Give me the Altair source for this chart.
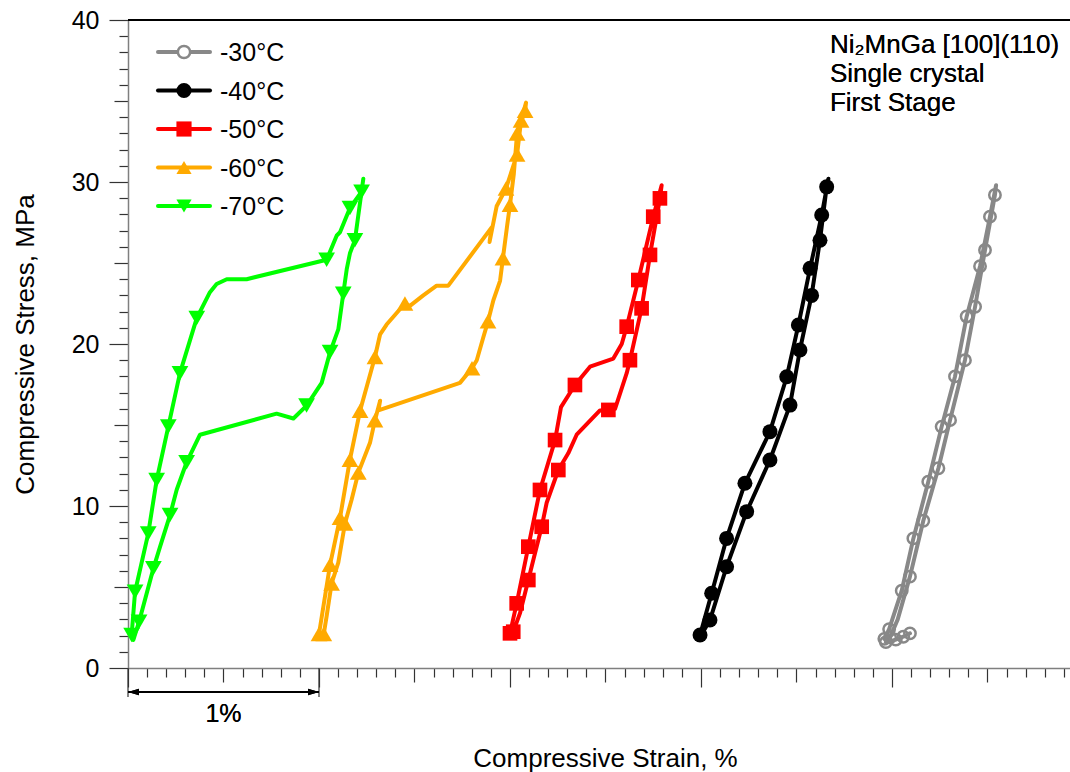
import altair as alt
import pandas as pd

FONT = "Liberation Sans"

SERIES = ["-30°C", "-40°C", "-50°C", "-60°C", "-70°C"]
COLORS = ["#888888", "#000000", "#ff0000", "#ffaa00", "#00ff00"]

# -30 °C (grey, open circles)
STRAIN_30 = [3.960, 3.985, 4.051, 4.112, 4.190, 4.260, 4.330, 4.391, 4.461, 4.513, 4.545,
             4.539, 4.487, 4.435, 4.382, 4.304, 4.243, 4.164, 4.094, 4.030, 3.990, 3.968, 4.020, 4.059, 4.094]
STRESS_30 = [1.8, 2.4, 4.77, 8.0, 11.5, 14.9, 18.0, 21.7, 24.8, 27.86, 29.8,
             29.2, 25.8, 22.3, 19.0, 15.3, 12.33, 9.09, 5.64, 3.0, 1.9, 1.6, 1.75, 1.93, 2.14]
MARK_30 = [1, 1, 1, 1, 1, 1, 1, 1, 1, 1, 0,
           1, 1, 1, 1, 1, 1, 1, 1, 0, 1, 1, 1, 1, 1]

# -40 °C (black, filled circles)
STRAIN_40 = [2.995, 3.056, 3.134, 3.230, 3.361, 3.449, 3.510, 3.571, 3.632, 3.667,
             3.658, 3.623, 3.579, 3.518, 3.466, 3.361, 3.239, 3.134, 3.047, 3.000]
STRESS_40 = [2.04, 4.61, 8.0, 11.4, 14.59, 17.98, 21.17, 24.67, 27.96, 30.2,
             29.7, 26.4, 23.0, 19.63, 16.23, 12.84, 9.65, 6.25, 2.96, 2.0]
MARK_40 = [1, 1, 1, 1, 1, 1, 1, 1, 1, 0,
           1, 1, 1, 1, 1, 1, 1, 1, 1, 0]

# -50 °C (red, squares)
STRAIN_50 = [2.000, 2.035, 2.096, 2.157, 2.236, 2.267, 2.340, 2.419, 2.541, 2.585, 2.611, 2.672, 2.750, 2.794,
             2.785, 2.733, 2.689, 2.628, 2.611, 2.550, 2.515, 2.471, 2.349, 2.305, 2.253, 2.192, 2.166, 2.122,
             2.096, 2.052, 2.017]
STRESS_50 = [2.14, 3.99, 7.49, 10.99, 14.07, 16.1, 17.47, 18.6, 19.1, 20.0, 21.07, 23.95, 27.86, 29.8,
             28.99, 25.5, 22.2, 19.0, 18.2, 16.0, 15.93, 15.9, 14.4, 13.25, 12.22, 10.2, 8.72, 6.67,
             5.43, 3.37, 2.24]
MARK_50 = [1, 1, 1, 1, 1, 0, 1, 0, 0, 0, 1, 1, 1, 0,
           1, 1, 1, 1, 0, 0, 1, 0, 0, 0, 1, 0, 1, 0,
           1, 0, 1]

# -60 °C (orange, triangles up)
STRAIN_60 = [1.000, 1.058, 1.110, 1.162, 1.215, 1.293, 1.320, 1.354, 1.450, 1.476, 1.546, 1.616, 1.677,
             1.904, 1.893, 1.930, 1.979, 2.037, 2.058, 2.084,
             2.079, 2.037, 2.020, 2.000, 1.985, 1.963, 1.948, 1.913, 1.885, 1.860, 1.826, 1.801, 1.738,
             1.311, 1.320, 1.293, 1.267, 1.206, 1.171, 1.136, 1.101, 1.066, 1.040, 1.025]
STRESS_60 = [2.1, 6.38, 9.27, 12.86, 15.88, 19.2, 20.6, 21.2, 22.5, 22.35, 23.0, 23.6, 23.6,
             27.2, 26.3, 28.5, 29.6, 31.7, 33.8, 34.9,
             34.4, 33.0, 30.5, 28.6, 27.3, 25.3, 23.9, 22.7, 21.4, 20.4, 19.0, 18.5, 17.6,
             15.9, 16.5, 15.3, 13.9, 12.06, 10.4, 8.92, 6.5, 5.22, 3.2, 2.1]
MARK_60 = [1, 1, 1, 1, 1, 1, 0, 0, 1, 0, 0, 0, 0,
           0, 0, 0, 1, 1, 1, 0,
           1, 1, 0, 1, 0, 1, 0, 0, 1, 0, 0, 1, 0,
           0, 0, 1, 0, 1, 0, 1, 0, 1, 0, 1]

# -70 °C (green, triangles down)
STRAIN_70 = [0.019, 0.037, 0.106, 0.150, 0.211, 0.272, 0.360, 0.429, 0.464, 0.517, 0.621, 1.040, 1.093,
             1.110, 1.162, 1.223, 1.232,
             1.188, 1.162, 1.145, 1.127, 1.101, 1.058, 1.014, 0.935, 0.866, 0.778, 0.377, 0.307, 0.255,
             0.220, 0.168, 0.133, 0.058, 0.028]
STRESS_70 = [2.04, 4.71, 8.31, 11.6, 14.9, 18.2, 21.6, 23.2, 23.7, 24.0, 24.0, 25.2, 26.7,
             26.9, 28.4, 29.4, 30.2,
             26.4, 25.6, 24.6, 23.1, 20.9, 19.5, 17.6, 16.2, 15.4, 15.7, 14.4, 12.7, 11.0,
             9.44, 7.49, 6.15, 2.86, 1.73]
MARK_70 = [1, 1, 1, 1, 1, 1, 1, 0, 0, 0, 0, 1, 0,
           0, 1, 1, 0,
           1, 0, 0, 1, 0, 1, 0, 1, 0, 0, 0, 1, 0,
           1, 0, 1, 1, 0]

MARKER_SHAPES = ["circle", "circle", "square", "triangle-up", "triangle-down"]
MARKER_SIZES = [130, 225, 215, 280, 280]

ANNOT_LINES = ["Ni\u2082MnGa [100](110)", "Single crystal", "First Stage"]
ANNOT_X = 3.675
ANNOT_Y = 37.96

SCALE_BAR = [0, 1]
XMAX = 4.932
W, H = 942, 648

rows = []
for name, xs, ys, ms in [
    (SERIES[0], STRAIN_30, STRESS_30, MARK_30),
    (SERIES[1], STRAIN_40, STRESS_40, MARK_40),
    (SERIES[2], STRAIN_50, STRESS_50, MARK_50),
    (SERIES[3], STRAIN_60, STRESS_60, MARK_60),
    (SERIES[4], STRAIN_70, STRESS_70, MARK_70),
]:
    for i, (x, y, m) in enumerate(zip(xs, ys, ms)):
        rows.append({"series": name, "strain": x, "stress": y, "mark": m, "idx": i})
df = pd.DataFrame(rows)
legend_df = pd.DataFrame({"series": SERIES})

color_scale = alt.Scale(domain=SERIES, range=COLORS)
xscale = alt.Scale(domain=[0, XMAX], nice=False, zero=False)
yscale = alt.Scale(domain=[0, 40], nice=False)

x_ticks = [round(i * 0.1, 1) for i in range(0, 50)]
y_ticks = list(range(0, 41))

xaxis = alt.Axis(
    values=x_ticks, tickCount=200, labels=False, grid=False,
    domainColor="#7f7f7f", domainWidth=1.5, tickColor="#333333", tickWidth=1.2,
    tickSize={"condition": [
        {"test": "abs(datum.value - round(datum.value)) < 0.001", "value": 19},
        {"test": "abs(datum.value * 2 - round(datum.value * 2)) < 0.001", "value": 14}],
        "value": 9},
    title="Compressive Strain, %", titleFont=FONT, titleFontSize=26, titleFontWeight="normal",
    titleColor="black", titleX=477, titleY=98, titleBaseline="alphabetic",
)
yaxis = alt.Axis(
    values=y_ticks, tickCount=200, grid=False, format="d",
    domainColor="#7f7f7f", domainWidth=1.5, tickColor="#333333", tickWidth=1.2,
    tickSize={"condition": [
        {"test": "datum.value % 10 === 0", "value": 19},
        {"test": "datum.value % 5 === 0", "value": 14}],
        "value": 9},
    labelExpr="datum.value % 10 === 0 ? datum.label : ''",
    labelFont=FONT, labelFontSize=25, labelColor="black", labelPadding=10, labelOverlap=False,
    title="Compressive Stress, MPa", titleFont=FONT, titleFontSize=26, titleFontWeight="normal",
    titleColor="black", titleX=-95, titleBaseline="alphabetic", titleAngle=270,
)

base = alt.Chart(df)

lines = base.mark_line(strokeWidth=4, strokeJoin="round", strokeCap="round").encode(
    x=alt.X("strain:Q", scale=xscale, axis=xaxis),
    y=alt.Y("stress:Q", scale=yscale, axis=yaxis),
    color=alt.Color("series:N", scale=color_scale, legend=None),
    order="idx:Q",
)

point_layers = []
for k in range(1, 5):
    point_layers.append(
        base.transform_filter(
            alt.FieldEqualPredicate(field="series", equal=SERIES[k])
        ).transform_filter("datum.mark == 1").mark_point(
            filled=True, opacity=1, size=MARKER_SIZES[k], shape=MARKER_SHAPES[k], color=COLORS[k]
        ).encode(x="strain:Q", y="stress:Q")
    )
open_pts = base.transform_filter(
    alt.FieldEqualPredicate(field="series", equal=SERIES[0])
).transform_filter("datum.mark == 1").mark_point(
    filled=False, opacity=1, size=MARKER_SIZES[0], strokeWidth=2.5, shape=MARKER_SHAPES[0], color=COLORS[0]
).encode(x="strain:Q", y="stress:Q")

top_frame = alt.Chart(df).mark_rule(color="black", strokeWidth=1.5).encode(
    x=alt.datum(0), x2=alt.datum(XMAX), y=alt.datum(40)
)

bar_df = pd.DataFrame({"strain": SCALE_BAR})
bar_ends = alt.Chart(bar_df).mark_rule(color="#333333", strokeWidth=1.2).encode(
    x="strain:Q", y=alt.value(H), y2=alt.value(H + 29)
)
bar_line = alt.Chart(bar_df).mark_rule(color="black", strokeWidth=1.8).encode(
    x=alt.datum(SCALE_BAR[0]), x2=alt.datum(SCALE_BAR[1]), y=alt.value(H + 24)
)
arrow_l = alt.Chart(bar_df).mark_point(
    shape="M 0 0 L 2 -0.6 L 2 0.6 Z", filled=True, opacity=1, size=121, color="black"
).encode(x=alt.datum(SCALE_BAR[0]), y=alt.value(H + 24))
arrow_r = alt.Chart(bar_df).mark_point(
    shape="M 0 0 L -2 -0.6 L -2 0.6 Z", filled=True, opacity=1, size=121, color="black"
).encode(x=alt.datum(SCALE_BAR[1]), y=alt.value(H + 24))
bar_text = alt.Chart(bar_df).mark_text(
    text="1%", font=FONT, fontSize=25, baseline="alphabetic", align="center", color="black"
).encode(x=alt.datum((SCALE_BAR[0] + SCALE_BAR[1]) / 2), y=alt.value(H + 54))

annot = alt.Chart(bar_df).mark_text(
    text=ANNOT_LINES, font=FONT, fontSize=26, lineHeight=29, align="left",
    baseline="alphabetic", color="black"
).encode(x=alt.datum(ANNOT_X), y=alt.datum(ANNOT_Y))

main = alt.layer(
    lines, *point_layers, open_pts, top_frame,
    bar_ends, bar_line, arrow_l, arrow_r, bar_text, annot
)

# legend: one row per series, rows placed by a point scale on the series names
# (point scale keeps its default half-step outer padding: rows land at 32 ... 186 px)
leg_y = alt.Y("series:N", scale=alt.Scale(domain=SERIES, range=[12.75, 205.25]), axis=None)
leg_base = alt.Chart(legend_df)
leg_lines = leg_base.mark_rule(strokeWidth=4, strokeCap="round").encode(
    y=leg_y, x=alt.value(30), x2=alt.value(82),
    color=alt.Color("series:N", scale=color_scale, legend=None),
)
leg_filled = leg_base.transform_filter(
    alt.FieldOneOfPredicate(field="series", oneOf=SERIES[1:])
).mark_point(filled=True, opacity=1, size=230).encode(
    y=leg_y, x=alt.value(56),
    color=alt.Color("series:N", scale=color_scale, legend=None),
    shape=alt.Shape("series:N", scale=alt.Scale(domain=SERIES, range=MARKER_SHAPES), legend=None),
)
leg_open = leg_base.transform_filter(
    alt.FieldEqualPredicate(field="series", equal=SERIES[0])
).mark_point(filled=True, opacity=1, size=150, fill="white", stroke=COLORS[0], strokeWidth=2.5,
             shape="circle").encode(y=leg_y, x=alt.value(56))
leg_text = leg_base.mark_text(
    align="left", baseline="middle", font=FONT, fontSize=25, color="black", dy=1
).encode(y=leg_y, x=alt.value(92), text="series:N")

legend = alt.layer(leg_lines, leg_filled, leg_open, leg_text)

chart = alt.layer(main, legend).resolve_scale(
    y="independent"
).properties(
    width=W, height=H,
    padding={"left": 128, "top": 20, "right": 0, "bottom": 104},
    autosize=alt.AutoSizeParams(type="none"),
    background="white",
).configure_view(stroke=None)

chart.save("out.html", embed_options={"renderer": "svg", "actions": False})
